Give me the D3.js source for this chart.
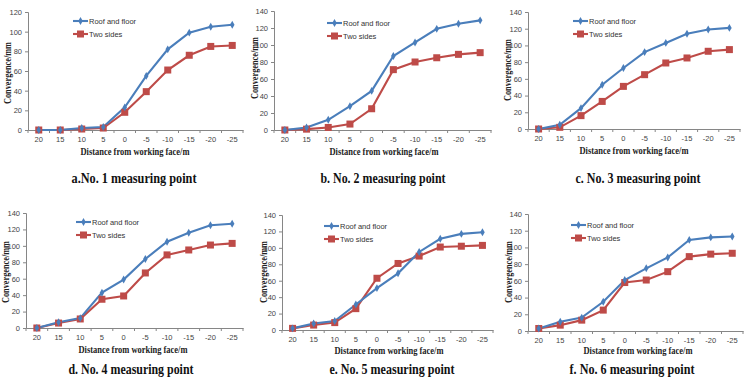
<!DOCTYPE html>
<html><head><meta charset="utf-8">
<script src="https://cdn.jsdelivr.net/npm/d3@7/dist/d3.min.js"></script>
<style>
body{margin:0;background:#fff;}
svg{display:block;}
.tick text{font-family:"Liberation Sans",Arial,sans-serif;font-size:7.5px;fill:#444;}
.atitle{font-family:"Liberation Serif","Times New Roman",serif;font-weight:bold;font-size:10px;fill:#222;}
.caption{font-family:"Liberation Serif","Times New Roman",serif;font-weight:bold;font-size:14px;fill:#111;}
.leg{font-family:"Liberation Sans",Arial,sans-serif;font-size:7.5px;fill:#333;}
</style></head>
<body>
<svg id="c" width="750" height="381"></svg>
<script>
const categories = ["20","15","10","5","0","-5","-10","-15","-20","-25"];
const seriesNames = ["Roof and floor","Two sides"];
const roofA  = [0,0,2,3,23,55,82,99,105,107];
const sidesA = [0,0,1,2,18,39,61,76,85,86];
const roofB  = [0,3,12,28,46,87,103,119,125,129];
const sidesB = [0,1,3,7,25,71,80,85,89,91];
const roofC  = [0,5,25,53,73,92,103,114,119,121];
const sidesC = [0,2,16,33,51,65,79,85,93,95];
const roofD  = [0,7,12,43,59,84,105,116,125,127];
const sidesD = [0,6,11,35,39,67,89,95,101,103];
const roofE  = [2,8,11,31,51,69,95,111,117,119];
const sidesE = [2,6,9,26,63,81,90,101,102,103];
const roofF  = [3,11,16,35,61,75,88,109,112,113];
const sidesF = [3,7,13,25,58,61,71,89,92,93];
const yMaxes = [120,140,140,140,140,140];
const captions = ["a.No. 1 measuring point","b. No. 2 measuring point","c. No. 3 measuring point",
                  "d. No. 4 measuring point","e. No. 5 measuring point","f. No. 6 measuring point"];
const xTitle = "Distance from working face/m";
const yTitle = "Convergence/mm";

const panels = [
  {roof:roofA, sides:sidesA, x0:28, x1:243, y0:130, y1:12, leg:[73,21], xt:[135,155], yt:[8,73], cap:[134,183]},
  {roof:roofB, sides:sidesB, x0:274, x1:491, y0:130, y1:11, leg:[327,23], xt:[384,155], yt:[255,68], cap:[383,183]},
  {roof:roofC, sides:sidesC, x0:528, x1:740, y0:129, y1:12, leg:[573,21], xt:[634,154], yt:[508,70], cap:[638,183]},
  {roof:roofD, sides:sidesD, x0:26, x1:243, y0:328, y1:213, leg:[76,222], xt:[133,353], yt:[6,272], cap:[131,374]},
  {roof:roofE, sides:sidesE, x0:282, x1:493, y0:330, y1:215, leg:[324,226], xt:[389,354], yt:[264,272], cap:[392,374]},
  {roof:roofF, sides:sidesF, x0:528, x1:743, y0:331, y1:214, leg:[571,225], xt:[638,354], yt:[509,272], cap:[632,374]}
];
const blue = "#4a7ebb", red = "#be4b48", axisCol = "#868686";
const svg = d3.select("#c");

panels.forEach((p,i)=>{
  const g = svg.append("g");
  const x = d3.scaleBand().domain(categories).range([p.x0,p.x1]);
  const y = d3.scaleLinear().domain([0,yMaxes[i]]).range([p.y0,p.y1]);
  const ya = g.append("g").attr("transform",`translate(${p.x0},0)`)
    .call(d3.axisLeft(y).ticks(yMaxes[i]/20).tickSize(3).tickPadding(3));
  ya.select(".domain").attr("stroke",axisCol);
  ya.selectAll(".tick line").attr("stroke",axisCol);
  const xa = g.append("g").attr("transform",`translate(0,${p.y0})`)
    .call(d3.axisBottom(x).tickSize(0).tickPadding(7));
  xa.select(".domain").attr("stroke",axisCol);
  const edges = categories.map(c=>x(c)).concat([p.x1]);
  xa.selectAll("line.sep").data(edges).enter().append("line").attr("class","sep")
    .attr("x1",d=>d).attr("x2",d=>d).attr("y1",0).attr("y2",3).attr("stroke",axisCol);
  const cx = c=>x(c)+x.bandwidth()/2;
  const line = d3.line().x((d,j)=>cx(categories[j])).y(d=>y(d));
  g.append("path").datum(p.sides).attr("d",line).attr("fill","none").attr("stroke",red).attr("stroke-width",2.1);
  g.append("path").datum(p.roof).attr("d",line).attr("fill","none").attr("stroke",blue).attr("stroke-width",2.1);
  g.selectAll("rect.m").data(p.sides).enter().append("rect").attr("class","m")
    .attr("x",(d,j)=>cx(categories[j])-3.5).attr("y",d=>y(d)-3.5).attr("width",7).attr("height",7).attr("fill",red);
  g.selectAll("path.m").data(p.roof).enter().append("path").attr("class","m")
    .attr("d",d3.symbol(d3.symbolDiamond,18)())
    .attr("transform",(d,j)=>`translate(${cx(categories[j])},${y(d)})`).attr("fill",blue);
  const [lx,ly] = p.leg;
  [[blue,"d"],[red,"s"]].forEach(([col,t],k)=>{
    const yy = ly + k*13;
    g.append("line").attr("x1",lx).attr("x2",lx+15).attr("y1",yy).attr("y2",yy).attr("stroke",col).attr("stroke-width",2.1);
    if(t==="s") g.append("rect").attr("x",lx+4).attr("y",yy-3.5).attr("width",7).attr("height",7).attr("fill",col);
    else g.append("path").attr("d",d3.symbol(d3.symbolDiamond,18)()).attr("transform",`translate(${lx+7.5},${yy})`).attr("fill",col);
    g.append("text").attr("class","leg").attr("x",lx+16).attr("y",yy+3).text(seriesNames[k]);
  });
  g.append("text").attr("class","atitle").attr("x",p.xt[0]).attr("y",p.xt[1]).attr("text-anchor","middle")
    .attr("textLength",109).attr("lengthAdjust","spacingAndGlyphs").text(xTitle);
  g.append("text").attr("class","atitle").attr("text-anchor","middle")
    .attr("textLength",62).attr("lengthAdjust","spacingAndGlyphs")
    .attr("transform",`translate(${p.yt[0]+3},${p.yt[1]}) rotate(-90)`).text(yTitle);
  g.append("text").attr("class","caption").attr("x",p.cap[0]).attr("y",p.cap[1]).attr("text-anchor","middle")
    .attr("textLength",125).attr("lengthAdjust","spacingAndGlyphs").text(captions[i]);
});
</script>
</body></html>
